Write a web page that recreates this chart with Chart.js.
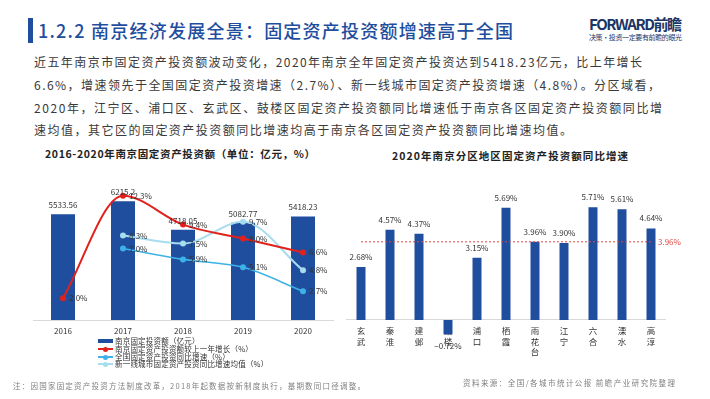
<!DOCTYPE html>
<html lang="zh-CN">
<head>
<meta charset="utf-8">
<script src="https://cdn.jsdelivr.net/npm/chart.js@4.4.1/dist/chart.umd.min.js"></script>
<style>
  html, body { margin: 0; padding: 0; background: #fff; }
  body { width: 710px; height: 399px; position: relative; overflow: hidden; font-family: "Noto Sans CJK SC", sans-serif; color: #333; }
  .t { position: absolute; white-space: nowrap; line-height: 1; }
  .para { font-size: 12px; color: #3a3a3a; }
  .ctitle { font-size: 10.5px; font-weight: bold; color: #222; }
  .foot { font-size: 7.5px; color: #808080; }
  #bar { position: absolute; left: 28px; top: 18px; width: 5px; height: 25px; background: #1f4e9f; }
  #leftBox { position: absolute; left: 0; top: 140px; }
  #rightBox { position: absolute; left: 340px; top: 140px; }
  .lg-row { position: absolute; left: 98px; height: 8px; }
  .lg-mark { position: absolute; left: 0; top: 0; width: 15px; height: 8px; }
  .lg-text { position: absolute; left: 17px; top: -0.5px; font-size: 7.5px; line-height: 8px; letter-spacing: 0.2px; color: #333; white-space: nowrap; }
</style>
</head>
<body>
<div id="bar"></div>
<div class="t fit" data-w="475" style="left:38px;top:21px;font-size:18px;font-weight:500;color:#1f4e9f">1.2.2 南京经济发展全景：固定资产投资额增速高于全国</div>
<div class="t fit" data-w="93" style="left:589px;top:16px;font-size:15px;font-weight:bold;color:#1b3566">FORWARD前瞻</div>
<div class="t fit" data-w="93" style="left:589px;top:34px;font-size:7px;color:#1b3566">决策·投资一定要有前瞻的眼光</div>

<div class="t para fit" data-w="608" style="left:34px;top:56px">近五年南京市固定资产投资额波动变化，2020年南京全年固定资产投资达到5418.23亿元，比上年增长</div>
<div class="t para fit" data-w="626" style="left:34px;top:79px">6.6%，增速领先于全国固定资产投资增速（2.7%）、新一线城市固定资产投资增速（4.8%）。分区域看，</div>
<div class="t para fit" data-w="628" style="left:34px;top:102px">2020年，江宁区、浦口区、玄武区、鼓楼区固定资产投资额同比增速低于南京各区固定资产投资额同比增</div>
<div class="t para fit" data-w="538" style="left:34px;top:124px">速均值，其它区的固定资产投资额同比增速均高于南京各区固定资产投资额同比增速均值。</div>

<div class="t ctitle fit" data-w="270" style="left:45px;top:149px">2016-2020年南京固定资产投资额（单位：亿元，%）</div>
<div class="t ctitle fit" data-w="236" style="left:392px;top:151px">2020年南京分区地区固定资产投资额同比增速</div>

<div id="leftBox"><canvas id="investChart" width="350" height="200"></canvas></div>
<div id="rightBox"><canvas id="districtChart" width="370" height="230"></canvas></div>
<div id="legend"></div>

<div class="t foot fit" data-w="352" style="left:13px;top:382px">注：因国家固定资产投资方法制度改革，2018年起数据按新制度执行，基期数同口径调整。</div>
<div class="t foot fit" data-w="212" style="left:463px;top:379px">资料来源：全国/各城市统计公报 前瞻产业研究院整理</div>

<script>
// left chart data
const years = ['2016', '2017', '2018', '2019', '2020'];
const investAmount = [5533.56, 6215.2, 4718.05, 5082.77, 5418.23];
const nanjingGrowth = [2.0, 12.3, 9.4, 8.0, 6.6];
const nationalGrowth = [null, 7.0, 5.9, 5.1, 2.7];
const newTier1Growth = [null, 8.3, 7.5, 9.7, 4.8];

// right chart data
const districts = [['玄', '武'], ['秦', '淮'], ['建', '邺'], ['鼓', '楼'], ['浦', '口'], ['栖', '霞'],
  ['雨', '花', '台'], ['江', '宁'], ['六', '合'], ['溧', '水'], ['高', '淳']];
const districtGrowth = [2.68, 4.57, 4.37, -0.72, 3.15, 5.69, 3.96, 3.90, 5.71, 5.61, 4.64];
const districtAverage = 3.96;

const FONT = 'Noto Sans CJK SC';
const DARK_BLUE = '#1f4e9f';
const RED = '#e3211c';
const SKY = '#3db2e8';
const LIGHT = '#a7dcef';

Chart.defaults.font.family = FONT;
Chart.defaults.color = '#333';
Chart.defaults.animation = false;

// stretch text lines so they span the same width as in the picture
function fitText() {
  document.querySelectorAll('.fit').forEach(el => {
    el.style.letterSpacing = '0px';
    const natural = el.getBoundingClientRect().width;
    const n = [...el.textContent].length;
    el.style.letterSpacing = ((+el.dataset.w - natural) / (n - 1)) + 'px';
  });
}

const valueLabels = {
  id: 'valueLabels',
  afterDatasetsDraw(chart) {
    const ctx = chart.ctx;
    ctx.save();
    ctx.font = `8px "${FONT}"`;
    ctx.fillStyle = '#333';
    ctx.textBaseline = 'middle';
    chart.data.datasets.forEach((ds, i) => {
      const meta = chart.getDatasetMeta(i);
      meta.data.forEach((el, j) => {
        const v = ds.data[j];
        if (v === null) return;
        if (ds.type === 'line') {
          ctx.textAlign = 'left';
          ctx.fillText(v.toFixed(1) + '%', el.x + 6, el.y);
        } else if (ds.percent) {
          ctx.textAlign = 'center';
          const txt = (v < 0 ? '−' : '') + Math.abs(v).toFixed(2) + '%';
          ctx.fillText(txt, el.x, v < 0 ? el.y + 12 : el.y - 10);
        } else {
          ctx.textAlign = 'center';
          ctx.fillText(String(v), el.x, el.y - 9);
        }
      });
    });
    ctx.restore();
  }
};

const averageLine = {
  id: 'averageLine',
  afterDatasetsDraw(chart) {
    const ctx = chart.ctx;
    const meta = chart.getDatasetMeta(0);
    const y = chart.scales.y.getPixelForValue(districtAverage);
    const x0 = meta.data[0].x;
    const x1 = meta.data[meta.data.length - 1].x + 2;
    ctx.save();
    ctx.strokeStyle = '#e04a45';
    ctx.lineWidth = 1;
    ctx.setLineDash([2, 2]);
    ctx.beginPath();
    ctx.moveTo(x0, y);
    ctx.lineTo(x1, y);
    ctx.stroke();
    ctx.setLineDash([]);
    ctx.fillStyle = '#e04a45';
    ctx.font = `8px "${FONT}"`;
    ctx.textAlign = 'left';
    ctx.textBaseline = 'middle';
    ctx.fillText(districtAverage.toFixed(2) + '%', x1 + 5, y);
    ctx.restore();
  }
};

function lineSet(label, data, color, width, order) {
  return {
    type: 'line',
    label: label,
    data: data,
    borderColor: color,
    backgroundColor: color,
    borderWidth: width,
    pointRadius: 3,
    pointBorderWidth: 0,
    cubicInterpolationMode: 'monotone',
    yAxisID: 'y1',
    order: order
  };
}

function createInvestChart() {
  const ctx = document.getElementById('investChart').getContext('2d');
  return new Chart(ctx, {
    data: {
      labels: years,
      datasets: [
        {
          type: 'bar',
          label: '南京固定投资额（亿元）',
          data: investAmount,
          backgroundColor: DARK_BLUE,
          barPercentage: 0.4,
          categoryPercentage: 1,
          yAxisID: 'y',
          order: 10
        },
        lineSet('南京固定资产投资额较上一年增长（%）', nanjingGrowth, RED, 2, 1),
        lineSet('全国固定资产投资同比增速（%）', nationalGrowth, SKY, 1.6, 2),
        lineSet('新一线城市固定资产投资同比增速均值（%）', newTier1Growth, LIGHT, 2, 3)
      ]
    },
    options: {
      responsive: false,
      layout: { padding: { left: 33, right: 17, top: 27, bottom: 0 } },
      plugins: { legend: { display: false }, tooltip: { enabled: false } },
      scales: {
        x: {
          grid: { display: false, drawTicks: false },
          border: { color: '#d9d9d9' },
          ticks: { font: { size: 8 }, color: '#333', padding: 6 },
          afterFit: scale => { scale.height = 20; }
        },
        y: { display: false, min: 0, max: 8000 },
        y1: { display: false, min: -0.2, max: 15.2 }
      }
    },
    plugins: [valueLabels]
  });
}

function createDistrictChart() {
  const ctx = document.getElementById('districtChart').getContext('2d');
  return new Chart(ctx, {
    type: 'bar',
    data: {
      labels: districts,
      datasets: [{
        label: '同比增速',
        data: districtGrowth,
        backgroundColor: DARK_BLUE,
        barPercentage: 0.31,
        categoryPercentage: 1,
        percent: true
      }]
    },
    options: {
      responsive: false,
      layout: { padding: { left: 6.5, right: 44.5, top: 51.7, bottom: 14.5 } },
      plugins: { legend: { display: false }, tooltip: { enabled: false } },
      scales: {
        x: {
          position: { y: 0 },
          grid: { display: false, drawTicks: false },
          border: { color: '#d9d9d9' },
          ticks: { font: { size: 8.5 }, color: '#333', padding: 6, maxRotation: 0, autoSkip: false },
          afterFit: scale => { scale.height = 0; }
        },
        y: { display: false, min: -1.8, max: 6.5 }
      }
    },
    plugins: [valueLabels, averageLine]
  });
}

function buildLegend(chart) {
  const box = document.getElementById('legend');
  const rows = [341, 349, 357, 364];
  chart.data.datasets.forEach((ds, i) => {
    const row = document.createElement('div');
    row.className = 'lg-row';
    row.style.top = (rows[i] - 4) + 'px';
    const mark = document.createElement('div');
    mark.className = 'lg-mark';
    if (ds.type === 'bar') {
      mark.innerHTML = `<div style="position:absolute;left:0;top:2px;width:15px;height:4px;background:${ds.backgroundColor}"></div>`;
    } else {
      mark.innerHTML = `<div style="position:absolute;left:0;top:3px;width:15px;height:2px;background:${ds.borderColor}"></div>` +
        `<div style="position:absolute;left:5px;top:1.5px;width:5px;height:5px;border-radius:50%;background:${ds.borderColor}"></div>`;
    }
    const text = document.createElement('div');
    text.className = 'lg-text';
    text.textContent = ds.label;
    row.appendChild(mark);
    row.appendChild(text);
    box.appendChild(row);
  });
}

document.fonts.ready.then(() => {
  fitText();
  const investChart = createInvestChart();
  createDistrictChart();
  buildLegend(investChart);
});
</script>
</body>
</html>
